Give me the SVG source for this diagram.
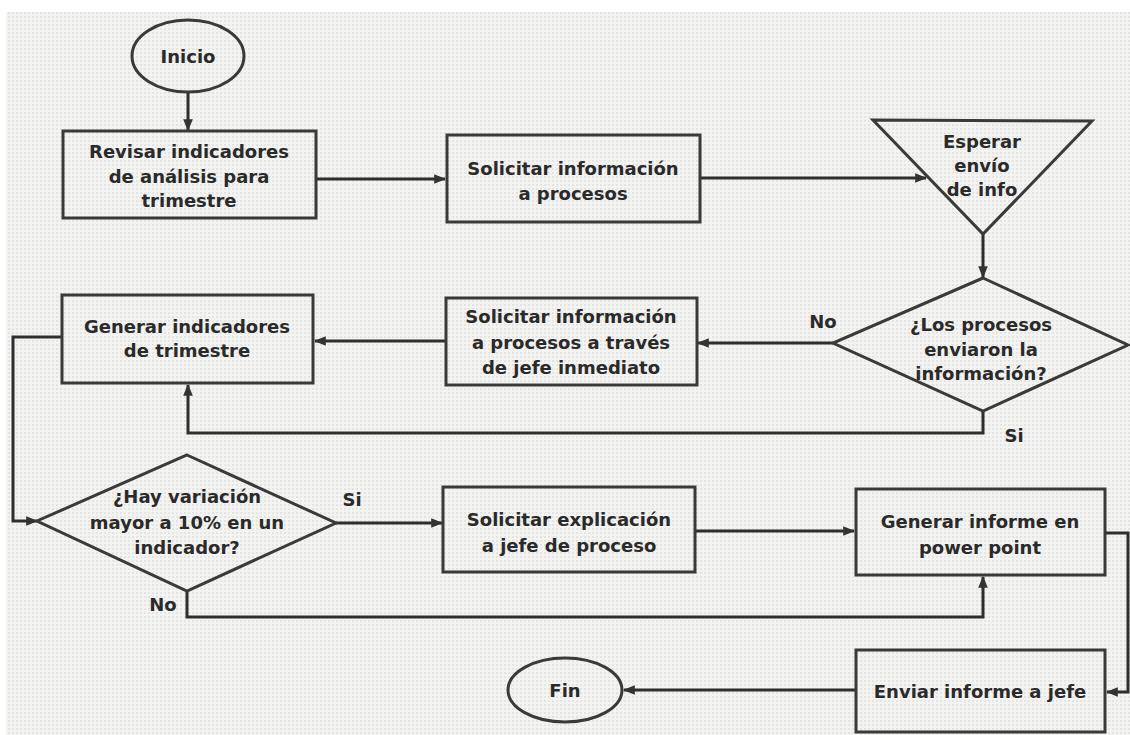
<svg xmlns="http://www.w3.org/2000/svg" width="1130" height="735" viewBox="0 0 1130 735">
<defs>
<pattern id="dots" width="4" height="4" patternUnits="userSpaceOnUse">
<rect width="4" height="4" fill="#f3f3f1"/>
<circle cx="1" cy="1" r="0.75" fill="#cfcfcc"/>
</pattern>
<marker id="arr" viewBox="0 0 10 10" refX="9" refY="5" markerWidth="4" markerHeight="4" orient="auto" markerUnits="strokeWidth">
<path d="M0,1 L10,5 L0,9 z" fill="#333"/>
</marker>
<style>
.sh{fill:none;stroke:#3a3a3a;stroke-width:3}
.ln{fill:none;stroke:#2e2e2e;stroke-width:3;stroke-linejoin:miter}
.ar{marker-end:url(#arr)}
text{font-family:"DejaVu Sans","Liberation Sans",sans-serif;font-size:18px;font-weight:bold;fill:#2a2a2a;text-anchor:middle}
</style>
</defs>
<rect width="1130" height="735" fill="#ffffff"/>
<rect x="6" y="12" width="1124" height="723" fill="url(#dots)"/>

<g id="connectors">
<path class="ln ar" d="M188,92 V130"/>
<path class="ln ar" d="M316,179 H445"/>
<path class="ln ar" d="M700,178 H926"/>
<path class="ln ar" d="M983,234 V277"/>
<path class="ln ar" d="M833,343 H698"/>
<path class="ln ar" d="M446,341 H315"/>
<path class="ln ar" d="M983,411 V433 H188 V385"/>
<path class="ln ar" d="M62,337 H13 V521 H37"/>
<path class="ln ar" d="M336,523 H442"/>
<path class="ln ar" d="M695,531 H854"/>
<path class="ln ar" d="M187,591 V617 H983 V577"/>
<path class="ln ar" d="M1105,533 H1128 V692 H1107"/>
<path class="ln ar" d="M856,690 H624"/>
<text x="823" y="328">No</text>
<text x="1014" y="442">Si</text>
<text x="352" y="506">Si</text>
<text x="163" y="611">No</text>
</g>

<g id="inicio">
<ellipse class="sh" cx="188" cy="56" rx="56" ry="36"/>
<text x="188" y="63">Inicio</text>
</g>

<g id="revisar">
<rect class="sh" x="63" y="131" width="253" height="87"/>
<text x="189" y="158">Revisar indicadores</text>
<text x="189" y="183">de análisis para</text>
<text x="189" y="207">trimestre</text>
</g>

<g id="solicitar1">
<rect class="sh" x="447" y="135" width="253" height="87"/>
<text x="573" y="175">Solicitar información</text>
<text x="573" y="200">a procesos</text>
</g>

<g id="esperar">
<polygon class="sh" points="873,120 1092,121 983,234"/>
<text x="982" y="148">Esperar</text>
<text x="982" y="172">envío</text>
<text x="982" y="196">de info</text>
</g>

<g id="decision1">
<polygon class="sh" points="983,278 1128,345 983,411 833,343"/>
<text x="981" y="331">¿Los procesos</text>
<text x="981" y="356">enviaron la</text>
<text x="981" y="380">información?</text>
</g>

<g id="solicitar2">
<rect class="sh" x="446" y="298" width="251" height="87"/>
<text x="571" y="323">Solicitar información</text>
<text x="571" y="349">a procesos a través</text>
<text x="571" y="374">de jefe inmediato</text>
</g>

<g id="generar">
<rect class="sh" x="62" y="295" width="251" height="88"/>
<text x="187" y="333">Generar indicadores</text>
<text x="187" y="357">de trimestre</text>
</g>

<g id="decision2">
<polygon class="sh" points="187,455 336,523 187,591 37,521"/>
<text x="187" y="503">¿Hay variación</text>
<text x="187" y="529">mayor a 10% en un</text>
<text x="187" y="554">indicador?</text>
</g>

<g id="explicacion">
<rect class="sh" x="443" y="487" width="252" height="85"/>
<text x="569" y="526">Solicitar explicación</text>
<text x="569" y="552">a jefe de proceso</text>
</g>

<g id="informe">
<rect class="sh" x="856" y="489" width="249" height="86"/>
<text x="980" y="528">Generar informe en</text>
<text x="980" y="554">power point</text>
</g>

<g id="enviar">
<rect class="sh" x="856" y="650" width="249" height="82"/>
<text x="980" y="698">Enviar informe a jefe</text>
</g>

<g id="fin">
<ellipse class="sh" cx="565" cy="690" rx="57" ry="32"/>
<text x="565" y="697">Fin</text>
</g>
</svg>
